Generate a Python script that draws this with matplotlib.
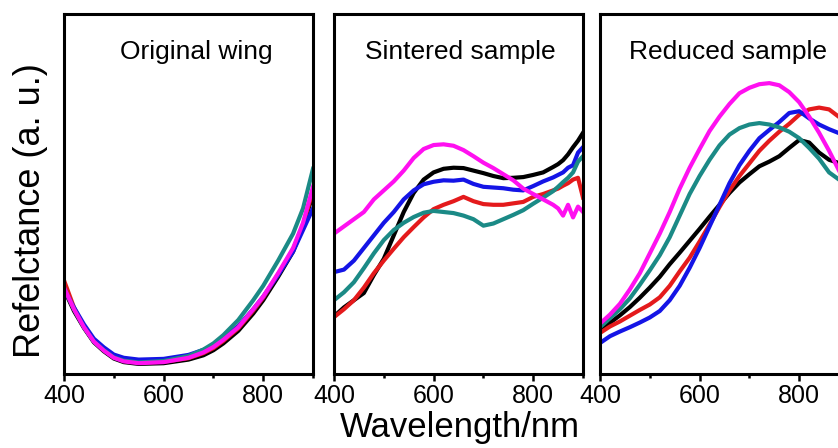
import matplotlib
matplotlib.use("Agg")
import matplotlib.pyplot as plt
from matplotlib.ticker import MultipleLocator

# reflectance spectra (arbitrary units, 0-100)
titles = ["Original wing", "Sintered sample", "Reduced sample"]
colors = {"black": "#000000", "red": "#e41a1c", "blue": "#1414e6",
          "teal": "#1b8a86", "magenta": "#ff10f0"}
order = ["black", "red", "blue", "teal", "magenta"]

# panel 1 - original wing
wl_orig = [400, 420, 440, 460, 480, 500, 520, 550, 600, 650, 680, 700, 720, 750, 780, 800, 830, 860, 880, 900]
orig = {
    "black":   [23.5, 17.5, 12.8, 8.8, 6.3, 4.3, 3.3, 2.8, 3.0, 4.0, 5.2, 6.6, 8.5, 12.0, 16.8, 20.5, 27.0, 34.0, 41.0, 50.0],
    "red":     [26.0, 18.5, 13.2, 9.2, 6.8, 4.7, 3.7, 3.2, 3.4, 4.4, 5.8, 7.2, 9.2, 12.7, 17.6, 21.2, 27.7, 34.6, 41.5, 51.0],
    "blue":    [23.5, 18.5, 13.8, 9.8, 7.4, 5.4, 4.5, 4.0, 4.2, 5.3, 6.7, 8.0, 10.0, 13.3, 18.0, 21.5, 27.5, 34.0, 40.0, 46.0],
    "teal":    [24.0, 18.0, 13.0, 9.0, 6.6, 4.6, 3.7, 3.2, 3.6, 5.0, 6.8, 8.5, 10.8, 15.0, 20.5, 24.5, 31.5, 39.0, 46.0, 57.0],
    "magenta": [24.0, 18.0, 13.0, 9.0, 6.5, 4.5, 3.5, 3.0, 3.3, 4.5, 6.0, 7.5, 9.5, 13.0, 18.0, 21.5, 28.0, 35.0, 42.0, 52.0],
}

# panel 2 - sintered sample
wl_sint = [400, 420, 440, 460, 480, 500, 520, 540, 560, 580, 600, 620, 640, 660, 680, 700, 720, 740,
           760, 780, 800, 820, 840, 850, 860, 870, 880, 890, 900]
sint = {
    "black":   [16.0, 18.5, 20.5, 22.5, 27.5, 32.0, 38.5, 45.0, 50.3, 54.0, 56.0, 57.0, 57.3, 57.2, 56.5, 55.8, 55.0, 54.4,
                54.5, 54.7, 55.3, 56.0, 57.5, 58.3, 59.4, 61.0, 63.0, 64.8, 67.0],
    "red":     [15.8, 18.0, 20.5, 24.0, 28.0, 31.5, 34.8, 38.0, 40.8, 43.5, 45.8, 47.0, 48.0, 49.2, 48.0, 47.2, 47.0, 47.0,
                47.4, 47.8, 49.2, 50.0, 51.0, 51.5, 52.3, 53.0, 54.0, 54.5, 49.0],
    "blue":    [28.3, 29.0, 31.5, 35.0, 38.5, 42.0, 45.0, 48.5, 51.0, 52.7, 53.4, 53.8, 53.7, 54.0, 52.8, 52.0, 51.8, 51.6,
                51.2, 51.0, 52.2, 53.5, 54.6, 55.3, 56.0, 57.3, 58.0, 61.5, 63.0],
    "teal":    [20.5, 22.7, 25.5, 29.4, 33.5, 37.2, 40.0, 42.0, 43.6, 44.8, 45.3, 45.0, 44.7, 44.0, 43.0, 41.2, 41.8, 43.0,
                44.2, 45.5, 47.3, 49.0, 50.8, 52.0, 53.3, 54.5, 56.0, 59.0, 60.5],
    "magenta": [39.0, 41.0, 43.0, 45.0, 48.5, 51.0, 53.5, 56.5, 60.0, 62.5, 63.6, 63.8, 63.4, 62.2, 60.5, 58.7, 57.2, 55.5,
                53.8, 51.5, 50.0, 48.5, 47.0, 46.0, 44.0, 47.0, 43.5, 46.5, 45.0],
}

# panel 3 - reduced sample
wl_red = [400, 420, 440, 460, 480, 500, 520, 540, 560, 580, 600, 620, 640, 660, 680, 700, 720, 740,
          760, 780, 800, 820, 840, 860, 880, 900]
red = {
    "black":   [12.2, 14.2, 16.3, 18.6, 21.2, 24.0, 27.0, 30.5, 33.7, 37.0, 40.3, 43.7, 47.0, 50.3, 53.2, 55.5, 57.7, 59.0,
                60.5, 62.8, 65.0, 64.3, 61.5, 59.5, 58.6, 57.0],
    "red":     [11.4, 13.2, 14.6, 16.2, 17.8, 19.3, 21.3, 24.5, 28.5, 32.3, 36.8, 41.5, 46.4, 51.0, 55.0, 58.5, 62.0, 64.8,
                67.3, 69.5, 72.0, 73.5, 74.0, 73.5, 71.4, 69.0],
    "blue":    [8.6, 10.5, 11.8, 13.0, 14.3, 15.7, 17.5, 20.5, 24.5, 29.5, 35.0, 41.0, 47.0, 53.0, 58.0, 62.0, 65.5, 67.8,
                70.0, 72.5, 73.0, 71.0, 69.3, 68.0, 66.9, 65.0],
    "teal":    [13.0, 15.5, 18.0, 21.0, 24.8, 28.8, 33.0, 38.0, 44.0, 50.0, 55.0, 59.5, 63.5, 66.5, 68.3, 69.3, 69.7, 69.3,
                68.5, 67.3, 65.5, 62.8, 59.8, 56.0, 54.0, 53.0],
    "magenta": [14.0, 16.5, 19.5, 23.5, 28.0, 33.5, 39.0, 45.0, 51.5, 57.3, 62.5, 67.5, 71.5, 75.0, 78.0, 79.5, 80.5, 80.8,
                80.2, 78.3, 75.5, 71.5, 67.0, 62.0, 56.5, 52.0],
}

panels = [(wl_orig, orig), (wl_sint, sint), (wl_red, red)]
title_x = [0.53, 0.508, 0.514]

plt.rcParams["font.family"] = ["Liberation Sans", "DejaVu Sans"]

fig = plt.figure(figsize=(8.38, 4.48), dpi=100)
lefts = [64 / 838, 334 / 838, 600 / 838]
for i, (wl, series) in enumerate(panels):
    ax = fig.add_axes([lefts[i], 1 - 374 / 448, 249 / 838, 360 / 448])
    for name in order:
        ax.plot(wl, series[name], color=colors[name], lw=3.0, solid_joinstyle="round")
    ax.set_xlim(400, 900)
    ax.set_ylim(0, 100)
    ax.set_yticks([])
    ax.xaxis.set_major_locator(MultipleLocator(200))
    ax.xaxis.set_minor_locator(MultipleLocator(100))
    ax.tick_params(axis="x", which="major", direction="out", length=5, width=1.8, pad=2, labelsize=18)
    ax.tick_params(axis="x", which="minor", direction="out", length=3, width=1.8)
    for sp in ax.spines.values():
        sp.set_linewidth(2.2)
    ax.text(title_x[i], 0.894, titles[i], transform=ax.transAxes,
            ha="center", va="center", fontsize=19)

fig.text(31 / 838, 1 - 211 / 448, "Refelctance (a. u.)", rotation=90,
         ha="center", va="center", fontsize=26)
fig.text(460 / 838, 1 - 437 / 448, "Wavelength/nm", ha="center", va="baseline", fontsize=25)

fig.savefig("out.png", dpi=100)
